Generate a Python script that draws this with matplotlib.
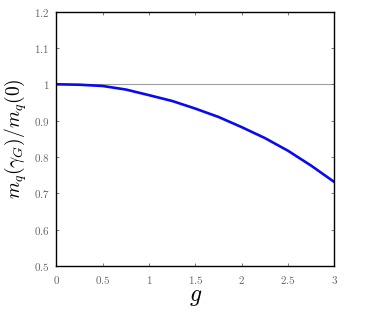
import matplotlib
matplotlib.use("Agg")
import matplotlib.pyplot as plt

plt.rcParams['mathtext.fontset'] = 'cm'
plt.rcParams['font.family'] = 'serif'
plt.rcParams['font.serif'] = ['cmr10', 'DejaVu Serif']
plt.rcParams['axes.formatter.use_mathtext'] = True

g = [0.0, 0.25, 0.5, 0.75, 1.0, 1.25, 1.5, 1.75, 2.0, 2.25, 2.5, 2.75, 3.0]
ratio = [1.0, 0.9988, 0.9953, 0.9855, 0.970, 0.954, 0.933, 0.910, 0.882, 0.852, 0.817, 0.776, 0.731]

xticks = [0, 0.5, 1, 1.5, 2, 2.5, 3]
xticklabels = ['$0$', '$0.5$', '$1$', '$1.5$', '$2$', '$2.5$', '$3$']
yticks = [0.5, 0.6, 0.7, 0.8, 0.9, 1.0, 1.1, 1.2]
yticklabels = ['$0.5$', '$0.6$', '$0.7$', '$0.8$', '$0.9$', '$1$', '$1.1$', '$1.2$']

fig = plt.figure(figsize=(3.74, 3.14), dpi=100)
ax = fig.add_axes([0.151, 0.153, 0.743, 0.810])
ax.axhline(1.0, color='#a0a0a0', lw=0.8, zorder=1)
ax.plot(g, ratio, color='#0a0aee', lw=1.9, zorder=2, solid_joinstyle='round')
ax.set_xlim(0, 3)
ax.set_ylim(0.5, 1.2)
ax.set_xticks(xticks)
ax.set_xticklabels(xticklabels)
ax.set_yticks(yticks)
ax.set_yticklabels(yticklabels)
ax.tick_params(direction='in', length=2.5, width=0.6, colors='#666666',
               labelsize=8, top=True, right=True, pad=5)
ax.tick_params(axis='x', pad=6)
for s in ax.spines.values():
    s.set_linewidth(1.0)
    s.set_color('black')
ax.set_xlabel('$g$', fontsize=17, labelpad=0)
ax.set_ylabel(r'$m_q(\gamma_G)/m_q(0)$', fontsize=14, labelpad=3)
fig.savefig('out.png', dpi=100)
